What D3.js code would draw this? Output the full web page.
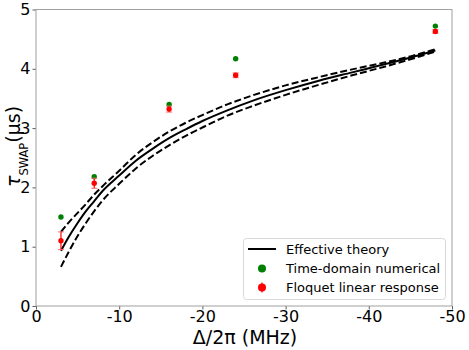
<!DOCTYPE html>
<html>
<head>
<meta charset="utf-8">
<script src="https://cdnjs.cloudflare.com/ajax/libs/d3/7.8.5/d3.min.js"></script>
<style>
  body { margin: 0; background: #fff; }
  text { font-family: "DejaVu Sans", sans-serif; }
</style>
</head>
<body>
<div id="chart"></div>
<script>
// detuning values (MHz) for the simulated points
var pointX = [-3, -7, -16, -24, -48];
var greenY = [1.50, 2.18, 3.40, 4.17, 4.72];
var redY = [1.10, 2.07, 3.32, 3.89, 4.63];
var redErr = [0.15, 0.085, 0.05, 0.04, 0.03];

// effective theory curves
var curveX = [-3, -4, -5, -6, -7, -8, -10, -12, -14, -16, -18, -20, -23, -26, -30, -34, -38, -42, -45, -48];
var theoryMid = [0.93, 1.18, 1.40, 1.60, 1.77, 1.94, 2.20, 2.45, 2.65, 2.83, 2.98, 3.12, 3.30, 3.46, 3.64, 3.80, 3.94, 4.08, 4.19, 4.31];
var theoryHigh = [1.25, 1.42, 1.57, 1.72, 1.88, 2.02, 2.28, 2.55, 2.76, 2.94, 3.09, 3.22, 3.40, 3.55, 3.72, 3.86, 3.99, 4.11, 4.21, 4.33];
var theoryLow = [0.66, 0.93, 1.18, 1.40, 1.60, 1.78, 2.06, 2.32, 2.53, 2.71, 2.87, 3.01, 3.21, 3.37, 3.56, 3.73, 3.89, 4.04, 4.16, 4.29];

var xTicks = [0, -10, -20, -30, -40, -50];
var yTicks = [0, 1, 2, 3, 4, 5];

var W = 469, H = 350;
var m = { left: 36, right: 452, top: 9.5, bottom: 306 };

var svg = d3.select("#chart").append("svg")
    .attr("width", W)
    .attr("height", H);

var x = d3.scaleLinear().domain([0, -50]).range([m.left, m.right]);
var y = d3.scaleLinear().domain([0, 5]).range([m.bottom, m.top]);

// axes
var fmt = function (d) { return String(d); };
var xAxis = svg.append("g")
    .attr("transform", "translate(0," + m.bottom + ")")
    .call(d3.axisBottom(x).tickValues(xTicks).tickSize(3.5).tickPadding(1.5).tickFormat(fmt));
var yAxis = svg.append("g")
    .attr("transform", "translate(" + m.left + ",0)")
    .call(d3.axisLeft(y).tickValues(yTicks).tickSize(3.5).tickPadding(2).tickFormat(fmt));

[xAxis, yAxis].forEach(function (g) {
    g.select(".domain").remove();
    g.selectAll(".tick line").attr("stroke", "#333").attr("stroke-width", 0.8);
    g.selectAll(".tick text")
        .attr("fill", "#000")
        .style("font-family", "DejaVu Sans")
        .style("font-size", "16px");
});

// frame
svg.append("rect")
    .attr("x", m.left).attr("y", m.top)
    .attr("width", m.right - m.left).attr("height", m.bottom - m.top)
    .attr("fill", "none")
    .attr("stroke", "#a0a0a0")
    .attr("stroke-width", 1);

// theory curves
var line = d3.line()
    .x(function (d) { return x(d[0]); })
    .y(function (d) { return y(d[1]); })
    .curve(d3.curveMonotoneX);

function pairs(ys) { return curveX.map(function (v, i) { return [v, ys[i]]; }); }

svg.append("path").attr("d", line(pairs(theoryHigh)))
    .attr("fill", "none").attr("stroke", "#000").attr("stroke-width", 2)
    .attr("stroke-dasharray", "7,3");
svg.append("path").attr("d", line(pairs(theoryLow)))
    .attr("fill", "none").attr("stroke", "#000").attr("stroke-width", 2)
    .attr("stroke-dasharray", "7,3");
svg.append("path").attr("d", line(pairs(theoryMid)))
    .attr("fill", "none").attr("stroke", "#000").attr("stroke-width", 2);

// green points
svg.selectAll(".green").data(pointX).enter().append("circle")
    .attr("cx", function (d) { return x(d); })
    .attr("cy", function (d, i) { return y(greenY[i]); })
    .attr("r", 2.7)
    .attr("fill", "green");

// red points with error bars
var red = svg.selectAll(".red").data(pointX).enter().append("g");
red.append("line")
    .attr("x1", function (d) { return x(d); })
    .attr("x2", function (d) { return x(d); })
    .attr("y1", function (d, i) { return y(redY[i] - redErr[i]); })
    .attr("y2", function (d, i) { return y(redY[i] + redErr[i]); })
    .attr("stroke", "red").attr("stroke-width", 1.2);
[-1, 1].forEach(function (s) {
    red.append("line")
        .attr("x1", function (d) { return x(d) - 3; })
        .attr("x2", function (d) { return x(d) + 3; })
        .attr("y1", function (d, i) { return y(redY[i] + s * redErr[i]); })
        .attr("y2", function (d, i) { return y(redY[i] + s * redErr[i]); })
        .attr("stroke", "#ff6666").attr("stroke-width", 1);
});
red.append("circle")
    .attr("cx", function (d) { return x(d); })
    .attr("cy", function (d, i) { return y(redY[i]); })
    .attr("r", 2.7)
    .attr("fill", "red");

// axis labels
svg.append("text")
    .attr("x", 245)
    .attr("y", 343.5)
    .attr("text-anchor", "middle")
    .style("font-size", "19px")
    .text("Δ/2π (MHz)");

var yl = svg.append("text")
    .attr("transform", "translate(19.5,187) rotate(-90)")
    .attr("text-anchor", "start")
    .style("font-size", "19px");
yl.append("tspan").style("font-style", "italic").text("τ");
yl.append("tspan").attr("dy", 8).style("font-size", "11.5px").text("SWAP");
yl.append("tspan").attr("dy", -8).text("(μs)");

// legend
var lg = svg.append("g");
lg.append("rect")
    .attr("x", 243.5).attr("y", 238.5)
    .attr("width", 202).attr("height", 61)
    .attr("rx", 3)
    .attr("fill", "#fff").attr("fill-opacity", 0.8)
    .attr("stroke", "#d8d8d8");
var items = ["Effective theory", "Time-domain numerical", "Floquet linear response"];
var rowY = [249, 268.5, 287.5];
lg.append("line").attr("x1", 248).attr("x2", 276).attr("y1", rowY[0]).attr("y2", rowY[0])
    .attr("stroke", "#000").attr("stroke-width", 2);
lg.append("circle").attr("cx", 262).attr("cy", rowY[1]).attr("r", 4).attr("fill", "green");
lg.append("line").attr("x1", 262).attr("x2", 262).attr("y1", rowY[2] - 5).attr("y2", rowY[2] + 5)
    .attr("stroke", "red").attr("stroke-width", 1.2);
lg.append("circle").attr("cx", 262).attr("cy", rowY[2]).attr("r", 4).attr("fill", "red");
items.forEach(function (t, i) {
    lg.append("text")
        .attr("x", 286).attr("y", rowY[i] + 4.5)
        .style("font-size", "13px")
        .text(t);
});
</script>
</body>
</html>
